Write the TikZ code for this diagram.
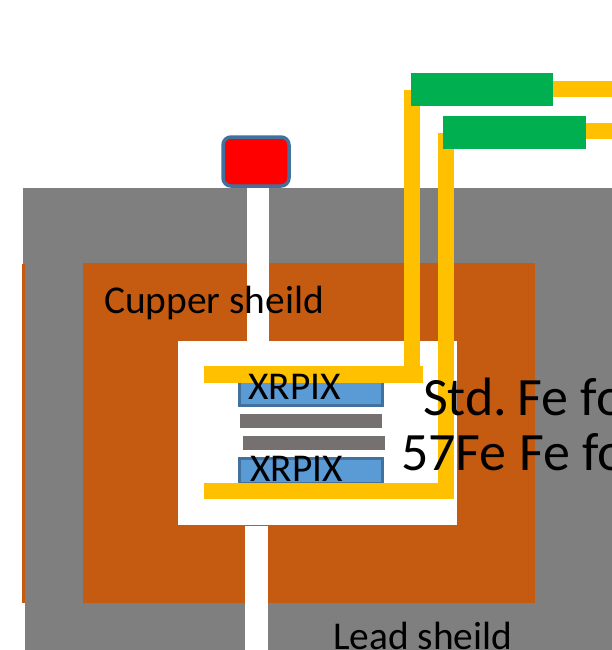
\documentclass[tikz,border=0pt]{standalone}
\usepackage{fontspec}
\setmainfont{Carlito}
\definecolor{leadgray}{HTML}{7F7F7F}
\definecolor{copperorange}{HTML}{C55A11}
\definecolor{wireyellow}{HTML}{FFC000}
\definecolor{boxgreen}{HTML}{00B050}
\definecolor{pixblue}{HTML}{5B9BD5}
\definecolor{pixline}{HTML}{41719C}
\definecolor{foilgray}{HTML}{767171}
\tikzset{
    wire/.style={draw=wireyellow,line width=16.5pt},
    connbox/.style={fill=boxgreen,minimum width=142.5pt,minimum height=33pt,inner sep=0pt,outer sep=0pt},
    pixbox/.style={draw=pixline,line width=3pt,fill=pixblue,minimum width=143pt,inner sep=0pt,outer sep=0pt},
    foilbar/.style={fill=foilgray,minimum width=142pt,minimum height=14pt,inner sep=0pt,outer sep=0pt},
    sourcebox/.style={draw=pixline,line width=3.5pt,fill=red,rounded corners=8pt,minimum width=66pt,minimum height=49pt,inner sep=0pt,outer sep=0pt},
    smalltext/.style={font=\fontsize{39.4}{39.4}\selectfont,inner sep=0pt,anchor=base west},
    bigtext/.style={font=\fontsize{54}{54}\selectfont,inner sep=0pt,anchor=base west}
}
\begin{document}
\begin{tikzpicture}[x=1pt,y=-1pt]
        \useasboundingbox (0,0) rectangle (612,650);
        \clip (0,0) rectangle (612,650);
        % shields
        \fill[leadgray] (23,188) rectangle (612,265);
        \fill[leadgray] (25,188) rectangle (612,650);
        \fill[copperorange] (22,264) rectangle (25,603);
        \fill[copperorange] (83,263) rectangle (534.5,603);
        \fill[white] (178,341) rectangle (457,525);
        \fill[white] (247,188) rectangle (269,341);
        \fill[white] (245,526) rectangle (268,650);
        % source
        \node[sourcebox] (source) at (256,161.5) {};
        % detectors and foils
        \node[pixbox,minimum height=25pt] (pixtop) at (311,392.5) {};
        \node[foilbar] (foilstd) at (311,421) {};
        \node[foilbar] (foilfe) at (313.5,443) {};
        \node[pixbox,minimum height=25pt] (pixbottom) at (311,471) {};
        % wires
        \coordinate (topstart) at (204,374.5);
        \coordinate (topend) at (423,374.5);
        \coordinate (upin) at (412,90);
        \coordinate (upout) at (412,383);
        \coordinate (bottomstart) at (204,491);
        \coordinate (lowin) at (446,133);
        \coordinate (rightup) at (612,89);
        \coordinate (rightlow) at (612,131);
        \draw[wire] (topstart) -- (topend);
        \draw[wire] (upout) -- (upin);
        \draw[wire] (bottomstart) -| (lowin);
        \node[connbox] (connup) at (482,89.5) {};
        \node[connbox] (connlow) at (514.25,132.5) {};
        \draw[wire] (connup.east |- rightup) -- (rightup);
        \draw[wire] (connlow.east |- rightlow) -- (rightlow);
        % labels
        \node[smalltext] (copperlabel) at (104,313) {Cupper sheild};
        \node[smalltext] (pixlabeltop) at (248,399) {XRPIX};
        \node[smalltext] (pixlabelbottom) at (250,481) {XRPIX};
        \node[bigtext] (stdlabel) at (423,415) {Std.\hspace{-6pt} Fe fo};
        \node[bigtext] (felabel) at (401,470) {57Fe Fe fo};
        \node[smalltext] (leadlabel) at (333,649) {Lead sheild};
        \end{tikzpicture}
\end{document}
